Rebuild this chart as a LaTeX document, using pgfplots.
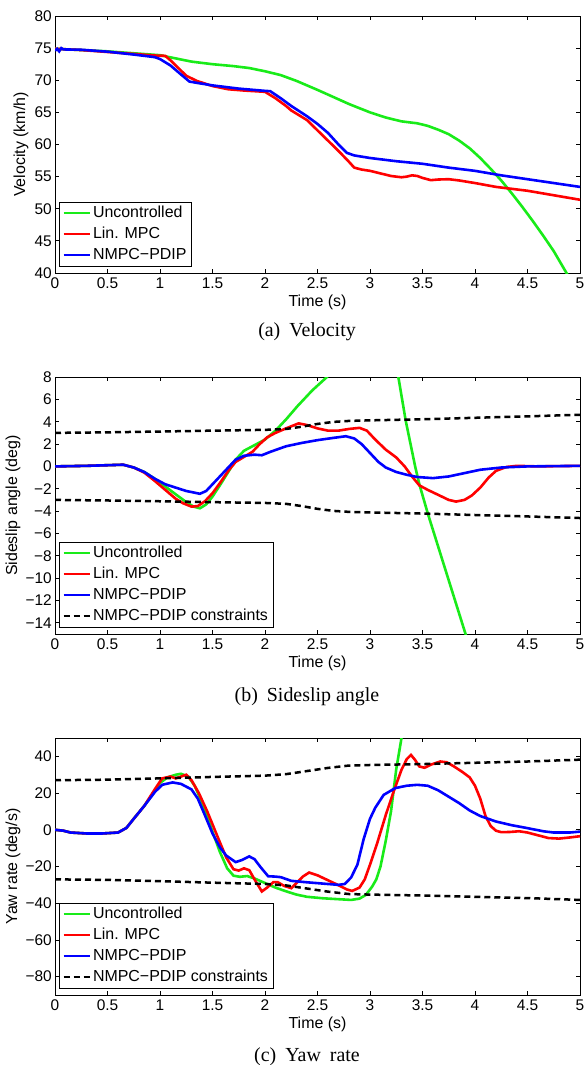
\documentclass[border=0pt]{standalone}
\usepackage{pgfplots}
\pgfplotsset{compat=1.18}
\usepackage{fontspec}
\setmainfont{Liberation Sans}
\newfontfamily\capfont{Liberation Serif}
\definecolor{mgreen}{RGB}{25,235,25}
\definecolor{mred}{RGB}{255,0,0}
\definecolor{mblue}{RGB}{0,0,255}
\pgfplotsset{
  myax/.style={
    scale only axis, width=525bp, height=257bp,
    xmin=0, xmax=5,
    xtick={0,0.5,1,1.5,2,2.5,3,3.5,4,4.5,5},
    xticklabels={0,0.5,1,1.5,2,2.5,3,3.5,4,4.5,5},
    tick align=inside, major tick length=4bp,
    axis line style={line width=0.9bp},
    every tick/.style={black, line width=0.8bp},
    tick label style={font=\fontsize{15.5}{17}\selectfont},
    xticklabel style={inner sep=0pt, yshift=-5bp},
    yticklabel style={inner sep=0pt, xshift=-3bp},
    label style={font=\fontsize{16}{18}\selectfont},
    xlabel={Time (s)},
    xlabel style={at={(axis description cs:0.5,-0.1128)}, anchor=center},
    legend cell align=left,
    legend image code/.code={\draw[##1] (0bp,0bp) -- (26bp,0bp);},
    legend style={at={(axis description cs:0.0076,0.0253)}, anchor=south west,
      draw=black, line width=0.9bp, fill=white,
      inner xsep=3bp, inner ysep=0.5bp, row sep=0pt,
      font=\fontsize{16}{18}\selectfont,
      nodes={inner xsep=2bp, inner ysep=2.25bp, text height=12.5bp, text depth=4bp}},
  },
  cg/.style={color=mgreen, line width=2.6bp},
  cr/.style={color=mred, line width=2.6bp},
  cb/.style={color=mblue, line width=2.6bp},
  ck/.style={color=black, line width=2.5bp, dash pattern=on 6bp off 4bp},
}
\begin{document}
\begin{tikzpicture}
\useasboundingbox (0,0) rectangle (584bp,-1065bp);
% ---------------- (a) Velocity
\begin{axis}[myax, at={(55bp,-273bp)}, anchor=south west,
  ymin=40, ymax=80, ytick={40,45,50,55,60,65,70,75,80},
  yticklabels={40,45,50,55,60,65,70,75,80},
  ylabel={Velocity (km/h)},
  ylabel style={at={(axis description cs:-0.0648,0.5)}, anchor=center}]
\addplot[cg] coordinates {(0,74.9) (0.25,74.7) (0.5,74.5) (0.75,74.2) (1.0,73.9) (1.15,73.4) (1.3,72.9) (1.5,72.5) (1.7,72.2) (1.85,71.9) (2.0,71.4) (2.15,70.8) (2.3,69.9) (2.5,68.5) (2.65,67.4) (2.8,66.3) (3.0,65.0) (3.15,64.2) (3.3,63.6) (3.45,63.3) (3.55,62.9) (3.65,62.3) (3.75,61.6) (3.85,60.6) (3.95,59.4) (4.05,57.9) (4.15,56.2) (4.25,54.4) (4.35,52.4) (4.45,50.3) (4.55,48.1) (4.65,45.8) (4.75,43.4) (4.85,40.6) (4.9,39.2)};
\addlegendentry{Uncontrolled}
\addplot[cr] coordinates {(0,74.9) (0.25,74.7) (0.5,74.4) (0.75,74.1) (0.95,73.85) (1.05,73.8) (1.1,73.1) (1.2,71.5) (1.25,70.7) (1.35,69.9) (1.5,69.1) (1.65,68.6) (1.8,68.4) (2.0,68.2) (2.1,67.2) (2.2,66.0) (2.25,65.3) (2.35,64.3) (2.4,63.8) (2.5,62.2) (2.6,60.6) (2.7,59.0) (2.8,57.3) (2.85,56.4) (2.92,56.1) (3.0,55.9) (3.1,55.5) (3.2,55.1) (3.3,54.9) (3.35,55.0) (3.4,55.2) (3.45,55.1) (3.5,54.8) (3.58,54.45) (3.65,54.55) (3.75,54.6) (3.85,54.4) (4.0,54.0) (4.2,53.4) (4.5,52.8) (4.75,52.1) (5.0,51.4)};
\addlegendentry{Lin. MPC}
\addplot[cb] coordinates {(0,74.6) (0.02,74.9) (0.04,74.5) (0.06,75.0) (0.08,74.8) (0.25,74.75) (0.5,74.45) (0.75,74.0) (0.95,73.6) (1.0,73.3) (1.1,72.3) (1.2,70.9) (1.28,69.8) (1.35,69.6) (1.5,69.2) (1.75,68.7) (2.0,68.35) (2.05,68.3) (2.15,67.2) (2.25,66.0) (2.4,64.4) (2.5,63.2) (2.6,61.8) (2.7,60.0) (2.78,58.7) (2.85,58.3) (3.0,57.9) (3.25,57.4) (3.5,57.0) (3.75,56.4) (4.0,55.9) (4.25,55.2) (4.5,54.6) (4.75,54.0) (5.0,53.4)};
\addlegendentry{NMPC−PDIP}
\end{axis}
\node[font=\capfont\fontsize{20}{22}\selectfont] at (307bp,-332bp) {(a)\hspace{0.45em}Velocity};
% ---------------- (b) Sideslip angle
\begin{axis}[myax, at={(55bp,-634bp)}, anchor=south west,
  ymin=-15, ymax=8, ytick={-14,-12,-10,-8,-6,-4,-2,0,2,4,6,8},
  yticklabels={−14,−12,−10,−8,−6,−4,−2,0,2,4,6,8},
  ylabel={Sideslip angle (deg)},
  ylabel style={at={(axis description cs:-0.08,0.5)}, anchor=center}]
\addplot[cg] coordinates {(0,0) (0.3,0.05) (0.65,0.15) (0.75,-0.1) (0.85,-0.5) (0.95,-1.1) (1.05,-1.8) (1.15,-2.5) (1.25,-3.2) (1.32,-3.6) (1.38,-3.75) (1.44,-3.4) (1.5,-2.7) (1.57,-1.7) (1.65,-0.5) (1.72,0.6) (1.8,1.4) (1.9,1.9) (2.0,2.4) (2.1,3.2) (2.2,4.2) (2.31,5.4) (2.45,6.8) (2.59,8.0) (2.7,9.2) (2.9,10.5) (3.1,10.5) (3.2,9.5) (3.27,8.0) (3.34,4.1) (3.43,0) (3.47,-1.6) (3.55,-4.2) (3.65,-7.2) (3.75,-10.2) (3.85,-13.2) (3.91,-15) (3.96,-16.5)};
\addlegendentry{Uncontrolled}
\addplot[cr] coordinates {(0,0) (0.3,0.05) (0.65,0.15) (0.75,-0.1) (0.85,-0.55) (0.95,-1.3) (1.05,-2.1) (1.15,-2.9) (1.22,-3.3) (1.3,-3.6) (1.36,-3.55) (1.43,-3.1) (1.5,-2.4) (1.57,-1.5) (1.65,-0.4) (1.72,0.4) (1.8,0.85) (1.88,1.3) (1.95,2.0) (2.02,2.6) (2.1,3.0) (2.2,3.4) (2.32,3.85) (2.4,3.7) (2.5,3.4) (2.6,3.2) (2.7,3.2) (2.8,3.35) (2.9,3.45) (2.97,3.2) (3.05,2.4) (3.15,1.5) (3.25,0.8) (3.33,0.0) (3.4,-0.9) (3.47,-1.7) (3.55,-2.1) (3.65,-2.55) (3.75,-3.0) (3.82,-3.15) (3.9,-3.0) (3.97,-2.6) (4.05,-1.9) (4.13,-1.0) (4.2,-0.4) (4.3,-0.05) (4.4,0.05) (4.6,0) (5,0.05)};
\addlegendentry{Lin. MPC}
\addplot[cb] coordinates {(0,0) (0.3,0.05) (0.65,0.15) (0.75,-0.1) (0.85,-0.5) (0.95,-1.1) (1.05,-1.6) (1.15,-1.9) (1.25,-2.2) (1.38,-2.45) (1.44,-2.2) (1.5,-1.6) (1.57,-0.9) (1.65,-0.1) (1.72,0.6) (1.8,0.95) (1.9,1.05) (1.97,1.0) (2.05,1.3) (2.2,1.8) (2.35,2.1) (2.5,2.35) (2.65,2.55) (2.77,2.7) (2.85,2.5) (2.92,2.0) (3.0,1.2) (3.08,0.4) (3.15,-0.1) (3.25,-0.5) (3.35,-0.75) (3.45,-0.95) (3.6,-1.05) (3.75,-0.9) (3.9,-0.6) (4.05,-0.3) (4.25,-0.1) (4.5,0) (5,0.05)};
\addlegendentry{NMPC−PDIP}
\addplot[ck] coordinates {(0,3.0) (0.5,3.05) (1.0,3.12) (1.5,3.2) (2.0,3.27) (2.2,3.35) (2.35,3.55) (2.5,3.8) (2.65,3.98) (2.8,4.07) (3.0,4.12) (3.5,4.22) (4.0,4.35) (4.5,4.48) (5.0,4.62)};
\addlegendentry{NMPC−PDIP constraints}
\addplot[ck, forget plot] coordinates {(0,-3.0) (0.5,-3.05) (1.0,-3.12) (1.5,-3.2) (2.0,-3.27) (2.2,-3.35) (2.35,-3.55) (2.5,-3.8) (2.65,-3.98) (2.8,-4.07) (3.0,-4.12) (3.5,-4.22) (4.0,-4.35) (4.5,-4.48) (5.0,-4.62)};
\end{axis}
\node[font=\capfont\fontsize{20}{22}\selectfont] at (307bp,-697bp) {(b)\hspace{0.45em}Sideslip angle};
% ---------------- (c) Yaw rate
\begin{axis}[myax, at={(55bp,-995bp)}, anchor=south west,
  ymin=-90, ymax=50, ytick={-80,-60,-40,-20,0,20,40},
  yticklabels={−80,−60,−40,−20,0,20,40},
  ylabel={Yaw rate (deg/s)},
  ylabel style={at={(axis description cs:-0.08,0.5)}, anchor=center}]
\addplot[cg] coordinates {(0,0) (0.08,-0.5) (0.15,-1.5) (0.3,-2) (0.45,-2) (0.6,-1.5) (0.68,1) (0.75,6) (0.85,13) (0.95,21) (1.0,25.5) (1.07,28.5) (1.15,30) (1.2,30.5) (1.27,29) (1.33,24) (1.4,15) (1.45,7) (1.5,-1) (1.57,-12) (1.64,-21) (1.7,-25) (1.76,-25.6) (1.83,-25.2) (1.9,-26.5) (2.0,-29) (2.1,-31.5) (2.2,-33.5) (2.3,-35.3) (2.4,-36.5) (2.55,-37.3) (2.7,-37.8) (2.82,-38.2) (2.9,-37.5) (2.96,-35.5) (3.02,-31) (3.06,-27) (3.1,-20) (3.15,-6) (3.2,10) (3.25,33) (3.3,50) (3.33,60)};
\addlegendentry{Uncontrolled}
\addplot[cr] coordinates {(0,0) (0.08,-0.5) (0.15,-1.5) (0.3,-2) (0.45,-2) (0.6,-1.5) (0.68,1) (0.75,6) (0.85,13) (0.95,22) (1.02,28) (1.1,29) (1.15,28) (1.2,29) (1.25,30) (1.3,27) (1.37,20) (1.45,10) (1.55,-4) (1.63,-15) (1.7,-21.5) (1.75,-22.2) (1.8,-21) (1.85,-22) (1.9,-27) (1.97,-33.6) (2.02,-31.5) (2.08,-28.5) (2.12,-28.5) (2.18,-30.5) (2.25,-31.8) (2.3,-29) (2.36,-25.5) (2.42,-23.3) (2.5,-24.8) (2.6,-27.5) (2.7,-30.2) (2.78,-32.5) (2.83,-33.3) (2.9,-31.5) (2.95,-27) (3.0,-19) (3.07,-7) (3.15,8) (3.22,20) (3.3,32.7) (3.35,38.5) (3.39,40.8) (3.43,38) (3.47,34.5) (3.52,33.8) (3.58,35.5) (3.67,37.2) (3.73,36.8) (3.8,34.5) (3.88,31.5) (3.95,28.5) (4.0,24) (4.05,17) (4.1,7.5) (4.15,2) (4.2,-0.5) (4.25,-1.3) (4.33,-1.2) (4.42,-0.8) (4.5,-1.5) (4.6,-3) (4.7,-4.5) (4.8,-4.8) (4.9,-4.2) (5.0,-3.5)};
\addlegendentry{Lin. MPC}
\addplot[cb] coordinates {(0,0) (0.08,-0.5) (0.15,-1.5) (0.3,-2) (0.45,-2) (0.6,-1.5) (0.68,1) (0.75,6) (0.85,13) (0.95,20.5) (1.02,24.5) (1.12,25.8) (1.2,25) (1.3,22) (1.36,17) (1.42,9) (1.5,-2) (1.57,-9.5) (1.63,-14) (1.72,-17.6) (1.78,-16.5) (1.85,-14.5) (1.9,-16) (1.96,-20.5) (2.03,-25.3) (2.1,-25.5) (2.15,-25.8) (2.25,-27.8) (2.4,-28.6) (2.55,-29.3) (2.7,-30.0) (2.76,-29.5) (2.82,-26) (2.88,-19) (2.94,-5) (3.0,6) (3.05,12) (3.13,19) (3.24,22.7) (3.35,24) (3.45,24.5) (3.55,24) (3.65,21.5) (3.75,18) (3.85,14.5) (3.95,10.5) (4.05,7.5) (4.2,4.5) (4.35,2.5) (4.5,0.9) (4.65,-0.8) (4.75,-1.5) (4.9,-1.5) (5.0,-1.0)};
\addlegendentry{NMPC−PDIP}
\addplot[ck] coordinates {(0,27) (0.5,27.3) (1.0,28) (1.5,28.8) (2.0,29.5) (2.2,30.3) (2.4,32) (2.6,33.7) (2.8,35) (3.0,35.3) (3.5,35.8) (4.0,36.5) (4.5,37.2) (5.0,38.2)};
\addlegendentry{NMPC−PDIP constraints}
\addplot[ck, forget plot] coordinates {(0,-27) (0.5,-27.3) (1.0,-28) (1.5,-28.8) (2.0,-29.5) (2.2,-30.3) (2.4,-32) (2.6,-33.7) (2.8,-35) (3.0,-35.3) (3.5,-35.8) (4.0,-36.5) (4.5,-37.2) (5.0,-38.2)};
\end{axis}
\node[font=\capfont\fontsize{20}{22}\selectfont] at (307bp,-1057bp) {(c)\hspace{0.45em}Yaw\hspace{0.45em}rate};
\end{tikzpicture}
\end{document}
